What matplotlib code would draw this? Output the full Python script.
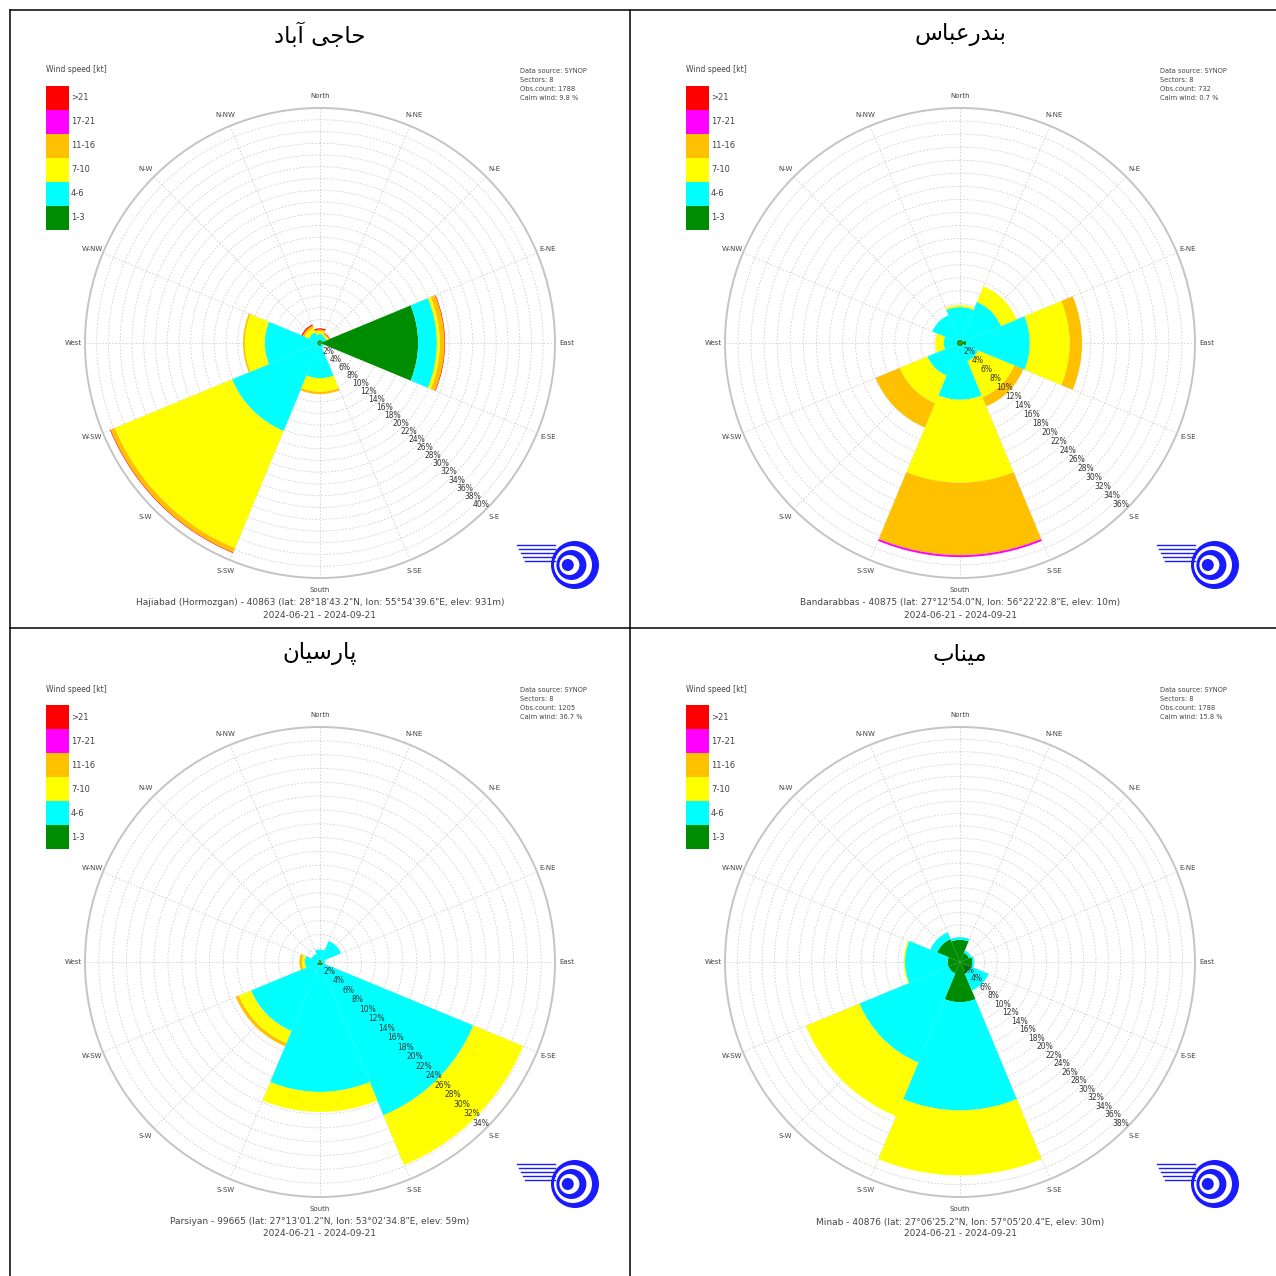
import numpy as np
import matplotlib.pyplot as plt
from matplotlib.patches import Rectangle, Circle
from matplotlib.lines import Line2D

W = H = 1276
fig = plt.figure(figsize=(12.76, 12.76), dpi=100)

dirs = ['N', 'NE', 'E', 'SE', 'S', 'SW', 'W', 'NW']
speed_bins = ['1-3', '4-6', '7-10', '11-16', '17-21', '>21']
bin_colors = ['#008c00', '#00ffff', '#ffff00', '#ffc000', '#ff00ff', '#ff0000']
compass = ['North', 'N-NE', 'N-E', 'E-NE', 'East', 'E-SE', 'S-E', 'S-SE',
           'South', 'S-SW', 'S-W', 'W-SW', 'West', 'W-NW', 'N-W', 'N-NW']

# % per direction (rows N..NW), columns = speed bins 1-3 ... >21
hajiabad = [
    [0.5, 1.0, 0.5, 0.3, 0.0, 0.2],
    [0.5, 0.7, 0.3, 0.2, 0.0, 0.1],
    [16.7, 3.2, 0.5, 0.8, 0.0, 0.1],
    [0.3, 0.5, 0.0, 0.0, 0.0, 0.0],
    [0.5, 5.5, 2.3, 0.4, 0.0, 0.0],
    [0.5, 15.7, 21.6, 0.8, 0.0, 0.1],
    [0.5, 8.9, 3.4, 0.3, 0.0, 0.0],
    [0.5, 1.5, 0.8, 0.4, 0.0, 0.2],
]
bandarabbas = [
    [0.5, 5.0, 0.3, 0.0, 0.0, 0.0],
    [0.5, 6.3, 2.6, 0.0, 0.0, 0.0],
    [1.0, 9.7, 6.1, 1.9, 0.0, 0.0],
    [0.5, 2.5, 6.0, 1.5, 0.0, 0.0],
    [0.5, 8.2, 12.7, 11.1, 0.3, 0.0],
    [0.5, 4.9, 4.6, 4.0, 0.0, 0.0],
    [0.5, 2.0, 1.3, 0.0, 0.0, 0.0],
    [0.5, 4.1, 0.0, 0.0, 0.0, 0.0],
]
parsiyan = [
    [0.3, 1.5, 0.0, 0.0, 0.0, 0.0],
    [0.3, 3.0, 0.0, 0.0, 0.0, 0.0],
    [0.2, 0.5, 0.0, 0.0, 0.0, 0.0],
    [0.5, 23.5, 7.8, 0.0, 0.0, 0.0],
    [0.5, 18.3, 2.9, 0.0, 0.0, 0.0],
    [0.5, 10.3, 1.9, 0.5, 0.0, 0.0],
    [0.2, 2.0, 0.4, 0.4, 0.0, 0.0],
    [0.3, 1.0, 0.0, 0.0, 0.0, 0.0],
]
minab = [
    [3.6, 0.4, 0.0, 0.0, 0.0, 0.0],
    [1.6, 0.4, 0.0, 0.0, 0.0, 0.0],
    [2.0, 0.3, 0.0, 0.0, 0.0, 0.0],
    [2.0, 3.0, 0.0, 0.0, 0.0, 0.0],
    [6.5, 17.5, 10.5, 0.0, 0.0, 0.0],
    [2.0, 15.6, 9.4, 0.0, 0.0, 0.0],
    [2.0, 6.9, 0.2, 0.0, 0.0, 0.0],
    [4.0, 1.2, 0.0, 0.0, 0.0, 0.0],
]

# titles (Persian, written in presentation forms, visual order)
titles = ['\uFEA9\uFE8E\uFE91\uFE81 \uFEF0\uFE9F\uFE8E\uFEA3',
          '\uFEB1\uFE8E\uFE92\uFECB\uFEAD\uFEAA\uFEE8\uFE91',
          '\uFEE5\uFE8E\uFEF4\uFEB3\uFEAD\uFE8E\uFB58',
          '\uFE8F\uFE8E\uFEE8\uFEF4\uFEE3']
captions = ["Hajiabad (Hormozgan) - 40863 (lat: 28°18'43.2\"N, lon: 55°54'39.6\"E, elev: 931m)",
            "Bandarabbas - 40875 (lat: 27°12'54.0\"N, lon: 56°22'22.8\"E, elev: 10m)",
            "Parsiyan - 99665 (lat: 27°13'01.2\"N, lon: 53°02'34.8\"E, elev: 59m)",
            "Minab - 40876 (lat: 27°06'25.2\"N, lon: 57°05'20.4\"E, elev: 30m)"]
obs_count = [1788, 732, 1205, 1788]
calm = [9.8, 0.7, 36.7, 15.8]
r_max = [40, 36, 34, 38]
period = '2024-06-21 - 2024-09-21'

stations = [hajiabad, bandarabbas, parsiyan, minab]
centers = [(320, 343), (960, 343), (320, 962), (960, 962)]
R = 235


def fx(x):
    return x / W


def fy(y):
    return 1 - y / H


# table lines
for xs, ys in [((10, 10), (10, 1276)), ((630, 630), (10, 1276)),
               ((10, 1276), (10, 10)), ((10, 1276), (628, 628))]:
    fig.add_artist(Line2D([fx(v) for v in xs], [fy(v) for v in ys],
                          color='black', lw=1.1))

theta = np.deg2rad(np.arange(8) * 45)
width = 2 * np.pi / 8

for k, data in enumerate(stations):
    cx, cy = centers[k]
    vals = np.array(data)
    ax = fig.add_axes([fx(cx - R), fy(cy + R), 2 * R / W, 2 * R / H],
                      projection='polar')
    ax.set_theta_zero_location('N')
    ax.set_theta_direction(-1)
    bottom = np.zeros(8)
    for j in range(len(speed_bins)):
        ax.bar(theta, vals[:, j], width=width, bottom=bottom,
               color=bin_colors[j], edgecolor='none', zorder=2)
        bottom += vals[:, j]
    ax.set_ylim(0, r_max[k])
    ax.set_yticks(np.arange(2, r_max[k] + 1, 2))
    ax.set_yticklabels([])
    ax.set_xticks(np.deg2rad(np.arange(0, 360, 22.5)))
    ax.set_xticklabels([])
    ax.grid(True, color='#d0d0d0', lw=0.6, ls=(0, (2, 2)))
    ax.spines['polar'].set_color('#c4c4c4')
    ax.spines['polar'].set_linewidth(1.4)
    ax.set_axisbelow(True)
    for r in np.arange(2, r_max[k] + 1, 2):
        ax.text(np.deg2rad(135), r * 0.97, f'{r}%', fontsize=5.5,
                color='#333333', ha='center', va='center', zorder=3)
    for i, name in enumerate(compass):
        ax.text(np.deg2rad(i * 22.5), r_max[k] * 1.05, name, fontsize=5,
                color='#444444', ha='center', va='center', clip_on=False)

    # title
    fig.text(fx(cx), fy(cy - 308), titles[k], fontsize=16.5,
             family=['DejaVu Sans'], ha='center', va='center')
    # legend
    fig.text(fx(cx - 274), fy(cy - 273), 'Wind speed [kt]', fontsize=5.5,
             color='#444444', ha='left', va='center')
    for j in range(6):
        top = cy - 257 + j * 24
        fig.add_artist(Rectangle((fx(cx - 274), fy(top + 24)), 23 / W, 24 / H,
                                 color=bin_colors[5 - j], lw=0))
        fig.text(fx(cx - 249), fy(top + 12), speed_bins[5 - j], fontsize=6,
                 color='#444444', ha='left', va='center')
    # info block
    info = ['Data source: SYNOP', 'Sectors: 8',
            f'Obs.count: {obs_count[k]}', f'Calm wind: {calm[k]} %']
    for i, line in enumerate(info):
        fig.text(fx(cx + 200), fy(cy - 272 + i * 9), line, fontsize=4.8,
                 color='#444444', ha='left', va='center')
    # caption
    fig.text(fx(cx), fy(cy + 260), captions[k], fontsize=6.5,
             color='#444444', ha='center', va='center')
    fig.text(fx(cx), fy(cy + 272), period, fontsize=6.5,
             color='#444444', ha='center', va='center')
    # logo
    lx, ly = cx + 255, cy + 222
    for rr, c in [(24, '#1a1aff'), (19, 'white'), (15, '#1a1aff'),
                  (10, 'white'), (6, '#1a1aff')]:
        fig.add_artist(Circle((fx(lx - (24 - rr) * 0.4), fy(ly)), rr / W,
                              color=c, lw=0))
    for i in range(5):
        fig.add_artist(Line2D([fx(lx - 58 + i * 2), fx(lx - 20)],
                              [fy(ly - 20 + i * 4)] * 2, color='#1a1aff', lw=1))

fig.savefig('out.png', dpi=100, facecolor='white')
